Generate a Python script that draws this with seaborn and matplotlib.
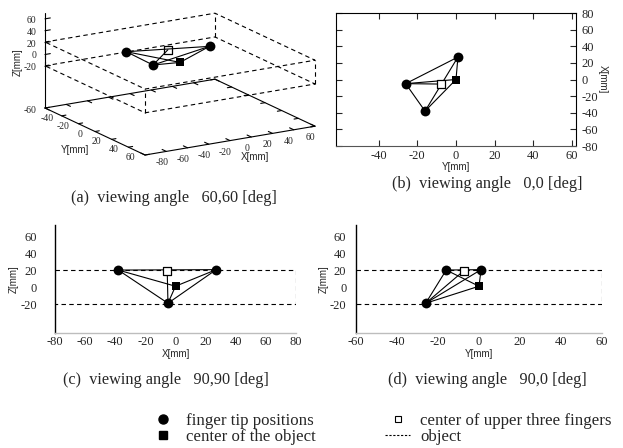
import numpy as np
import pandas as pd
import matplotlib
matplotlib.use("Agg")
import matplotlib.pyplot as plt
import seaborn as sns
from matplotlib.lines import Line2D
from mpl_toolkits.mplot3d import proj3d

# ---------------- data (mm) ----------------
finger_x = [27.0, -5.0, -38.0]
finger_y = [1.0, -26.0, -16.0]
finger_z = [21.5, -18.0, 21.0]
upper_center_x = [-5.5]
upper_center_y = [-7.5]
upper_center_z = [20.0]
object_center_x = [0.0]
object_center_y = [0.0]
object_center_z = [2.0]
object_x = [-80.0, 80.0]
object_y = [-60.0, 60.0]
object_z = [-19.0, 21.0]
edge_pairs = [("F1", "F2"), ("F1", "F3"), ("F2", "F3"),
              ("F1", "O"), ("F2", "O"), ("F3", "O"), ("F2", "C")]

# ---------------- ticks / texts ----------------
a_xticks = [-80, -60, -40, -20, 0, 20, 40, 60]
a_yticks = [-60, -40, -20, 0, 20, 40, 60]
a_zticks = [-20, 0, 20, 40, 60]
b_xticks = [-40, -20, 0, 20, 40, 60]
b_yticks = [-80, -60, -40, -20, 0, 20, 40, 60, 80]
c_xticks = [-80, -60, -40, -20, 0, 20, 40, 60, 80]
d_xticks = [-60, -40, -20, 0, 20, 40, 60]
cd_yticks = [-20, 0, 20, 40, 60]
captions = ["(a)  viewing angle   60,60 [deg]", "(b)  viewing angle   0,0 [deg]",
            "(c)  viewing angle   90,90 [deg]", "(d)  viewing angle   90,0 [deg]"]
legend_labels = ["finger tip positions", "center of the object",
                 "center of upper three fingers", "object"]

# ---------------- helpers ----------------
W, H = 623, 448
SERIF = ["Liberation Serif", "DejaVu Serif"]
SANS = ["Liberation Sans", "DejaVu Sans"]
sns.set_style("white")
plt.rcParams["font.family"] = SERIF
plt.rcParams["axes.unicode_minus"] = False

pts = {"F1": (finger_x[0], finger_y[0], finger_z[0]),
       "F2": (finger_x[1], finger_y[1], finger_z[1]),
       "F3": (finger_x[2], finger_y[2], finger_z[2]),
       "C": (upper_center_x[0], upper_center_y[0], upper_center_z[0]),
       "O": (object_center_x[0], object_center_y[0], object_center_z[0])}
rows = []
for i, (p, q) in enumerate(edge_pairs):
    for n in (p, q):
        rows.append({"edge": i, "X": pts[n][0], "Y": pts[n][1], "Z": pts[n][2]})
edges_df = pd.DataFrame(rows)


def frac(x, y):
    return x / W, 1 - y / H


def rect(l, t, r, b):
    return [l / W, 1 - b / H, (r - l) / W, (b - t) / H]


fig = plt.figure(figsize=(W / 100, H / 100), dpi=100)
DASH = (0, (4.0, 3.0))
LW = 0.8
TICKFS = 9


def draw_view(ax, hkey, vkey, hdata, vdata):
    sns.lineplot(data=edges_df, x=hkey, y=vkey, units="edge", estimator=None,
                 sort=False, color="black", lw=LW, ax=ax, legend=False, zorder=2)
    sns.scatterplot(x=hdata[0], y=vdata[0], marker="o", color="black", s=50,
                    linewidth=0, ax=ax, zorder=4)
    sns.scatterplot(x=hdata[2], y=vdata[2], marker="s", color="black", s=36,
                    linewidth=0, ax=ax, zorder=4)
    sns.scatterplot(x=hdata[1], y=vdata[1], marker="s", color="white", s=36,
                    edgecolor="black", linewidth=0.9, ax=ax, zorder=5)
    ax.set_xlabel("")
    ax.set_ylabel("")


# ---------------- (b) top view ----------------
axb = fig.add_axes(rect(336, 13, 576, 146))
draw_view(axb, "Y", "X",
          (finger_y, upper_center_y, object_center_y),
          (finger_x, upper_center_x, object_center_x))
axb.set_xlim(-62, 62)
axb.set_ylim(-80, 80)
axb.set_xticks(b_xticks)
axb.set_yticks(b_yticks)
axb.yaxis.tick_right()
axb.tick_params(direction="in", length=4, width=0.8, top=True, bottom=True,
                left=True, right=True, labelleft=False, labelright=True,
                labelsize=TICKFS, pad=4)
axb.tick_params(axis="x", pad=3)
for s in axb.spines.values():
    s.set_linewidth(0.8)
    s.set_color("black")
axb.spines["bottom"].set_color("#555555")
axb.set_xlabel("Y[mm]", family=SANS, fontsize=7, labelpad=0)
axb.yaxis.set_label_position("right")
axb.set_ylabel("X[mm]", family=SANS, fontsize=7, rotation=270, labelpad=7)


# ---------------- (c) and (d) side views ----------------
def side_axes(r, hkey, hdata, xlim, xticks, xlabel, ypad, ylabelpad):
    ax = fig.add_axes(r)
    right = object_x[1] if hkey == "X" else object_y[1]
    ax.plot([xlim[0], right, right, xlim[0]],
            [object_z[1], object_z[1], object_z[0], object_z[0]],
            color="black", lw=LW, ls=DASH, zorder=1)
    draw_view(ax, hkey, "Z", hdata, (finger_z, upper_center_z, object_center_z))
    ax.set_xlim(*xlim)
    ax.set_ylim(-53, 74)
    ax.set_xticks(xticks)
    ax.set_yticks(cd_yticks)
    ax.spines["top"].set_visible(False)
    ax.spines["right"].set_visible(False)
    ax.spines["left"].set_linewidth(1.0)
    ax.spines["left"].set_color("black")
    ax.spines["bottom"].set_linewidth(1.0)
    ax.spines["bottom"].set_color("#bdbdbd")
    ax.tick_params(axis="y", direction="in", length=4, width=0.8,
                   labelsize=TICKFS, pad=ypad)
    ax.tick_params(axis="x", length=0, labelsize=TICKFS, pad=2)
    ax.set_xlabel(xlabel, family=SANS, fontsize=7, labelpad=1)
    ax.set_ylabel("Z[mm]", family=SANS, fontsize=7, labelpad=ylabelpad)
    return ax


axc = side_axes(rect(55, 225, 296, 333), "X",
                (finger_x, upper_center_x, object_center_x),
                (-80, 80), c_xticks, "X[mm]", 13, 1)
axd = side_axes(rect(356, 225, 602, 333), "Y",
                (finger_y, upper_center_y, object_center_y),
                (-60, 60), d_xticks, "Y[mm]", 7, 1)

# ---------------- (a) 3-D view ----------------
ZBASE, ZTOP = -90, 70
XR, YR = (-80, 80), (-60, 60)
ax3 = fig.add_axes([-0.12, 0.25, 0.85, 0.85], projection="3d", computed_zorder=False)
ax3.set_proj_type("ortho")
ax3.view_init(elev=16.4, azim=-121)
ax3.set_xlim(*XR)
ax3.set_ylim(YR[1], YR[0])
ax3.set_zlim(ZBASE, ZTOP)
ax3.set_xticks([])
ax3.set_yticks([])
ax3.set_zticks([])
aspect = (198, 194, 99)
zoom = 1.0
ax3.set_box_aspect(aspect, zoom=zoom)
ax3.set_axis_off()
ax3.set_facecolor("none")

kw = dict(color="black", lw=LW, clip_on=False)
# base plane
bx = [XR[0], XR[1], XR[1], XR[0], XR[0]]
by = [YR[0], YR[0], YR[1], YR[1], YR[0]]
ax3.plot(bx, by, [ZBASE] * 5, **kw)
# z axis
ax3.plot([XR[0], XR[0]], [YR[0], YR[0]], [ZBASE, ZTOP], **kw)
# ticks
for t in a_xticks + [80]:
    ax3.plot([t, t], [YR[1], YR[1] - 5], [ZBASE, ZBASE], **kw)
    ax3.plot([t, t], [YR[0], YR[0] + 5], [ZBASE, ZBASE], **kw)
for t in a_yticks:
    ax3.plot([XR[0], XR[0] + 4], [t, t], [ZBASE, ZBASE], **kw)
    ax3.plot([XR[1], XR[1] - 4], [t, t], [ZBASE, ZBASE], **kw)
for t in a_zticks:
    ax3.plot([XR[0], XR[0] + 5], [YR[0], YR[0]], [t, t], **kw)
# object box (dashed)
ox, oy, oz = object_x, object_y, object_z
for z in oz:
    ax3.plot([ox[0], ox[1], ox[1], ox[0], ox[0]], [oy[0], oy[0], oy[1], oy[1], oy[0]],
             [z] * 5, color="black", lw=LW, ls=DASH, clip_on=False)
for x in ox:
    for y in oy:
        ax3.plot([x, x], [y, y], oz, color="black", lw=LW, ls=DASH, clip_on=False)
# hand structure
for i, (p, q) in enumerate(edge_pairs):
    ax3.plot([pts[p][0], pts[q][0]], [pts[p][1], pts[q][1]], [pts[p][2], pts[q][2]], **kw)
ax3.scatter(finger_x, finger_y, finger_z, marker="o", color="black", s=50,
            depthshade=False, linewidths=0)
ax3.scatter(object_center_x, object_center_y, object_center_z, marker="s",
            color="black", s=36, depthshade=False, linewidths=0)
ax3.scatter(upper_center_x, upper_center_y, upper_center_z, marker="s",
            facecolor="white", edgecolor="black", s=36, depthshade=False, linewidths=0.9)


# calibrate placement of the 3-D box on the page
def corner_px(x, y, z):
    xs, ys, _ = proj3d.proj_transform(x, y, z, ax3.get_proj())
    p = ax3.transData.transform((xs, ys))
    return p[0], H - p[1]


tL, tR = np.array([45.0, 108.0]), np.array([315.0, 126.0])
for _ in range(3):
    fig.canvas.draw()
    L = np.array(corner_px(XR[0], YR[0], ZBASE))
    R = np.array(corner_px(XR[1], YR[1], ZBASE))
    zoom *= np.linalg.norm(tR - tL) / np.linalg.norm(R - L)
    ax3.set_box_aspect(aspect, zoom=zoom)
    fig.canvas.draw()
    L = np.array(corner_px(XR[0], YR[0], ZBASE))
    pos = ax3.get_position(original=True)
    ax3.set_position([pos.x0 + (tL[0] - L[0]) / W, pos.y0 - (tL[1] - L[1]) / H,
                      pos.width, pos.height])
fig.canvas.draw()

# 3-D tick labels, placed at projected positions
for t in a_xticks:
    px, py = corner_px(t, YR[1] + 20, ZBASE)
    fig.text(*frac(px, py), str(t), ha="center", va="center", fontsize=7)
for t in a_yticks:
    px, py = corner_px(XR[0] - 14, t, ZBASE)
    fig.text(*frac(px, py), str(t), ha="center", va="center", fontsize=7)
for t in a_zticks:
    px, py = corner_px(XR[0] - 8, YR[0], t)
    fig.text(*frac(px, py), str(t), ha="right", va="center", fontsize=7)

fig.text(*frac(18, 62), "Z[mm]", family=SANS, fontsize=7, rotation=90,
         ha="center", va="center")
fig.text(*frac(75, 150), "Y[mm]", family=SANS, fontsize=7, ha="center", va="center")
fig.text(*frac(255, 157), "X[mm]", family=SANS, fontsize=7, ha="center", va="center")

# ---------------- captions ----------------
for (cx, cy), txt in zip([(174, 198), (487, 184), (166, 380), (487, 380)], captions):
    fig.text(*frac(cx, cy), txt, fontsize=11.7, ha="center", va="center")

# ---------------- legend ----------------
handles = [Line2D([], [], ls="", marker="o", color="black", ms=6.5),
           Line2D([], [], ls="", marker="s", color="black", ms=5.5),
           Line2D([], [], ls="", marker="s", mfc="white", mec="black", mew=0.8, ms=5),
           Line2D([], [], ls=(0, (2, 1.5)), color="black", lw=0.8)]
fig.legend(handles, legend_labels, ncol=2, frameon=False, loc="upper left",
           bbox_to_anchor=frac(150, 413), borderpad=0, borderaxespad=0,
           handlelength=1.5, handletextpad=0.6, columnspacing=4.1,
           labelspacing=0.0, prop={"family": SERIF, "size": 12.2})

fig.savefig("out.png", dpi=100)
